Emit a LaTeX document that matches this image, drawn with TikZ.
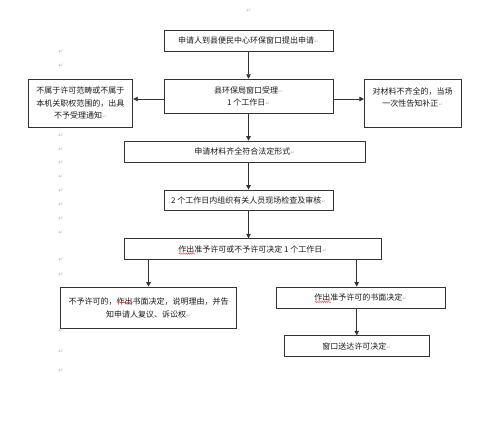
\documentclass[tikz,border=0pt]{standalone}
\usepackage{fontspec}
\newfontfamily\cjk{Noto Sans CJK SC}
\newfontfamily\dvs{DejaVu Sans}
\usetikzlibrary{arrows.meta,decorations.pathmorphing}
\newcommand{\rmk}{{\color{gray!55}\dvs\fontsize{5.5}{5.5}\selectfont ↵}}
\begin{document}
\begin{tikzpicture}[x=1pt,y=-1pt,
  box/.style={draw=black!80,line width=0.8pt,inner sep=0pt,align=center,
    font=\cjk\fontsize{8}{12.5}\selectfont,text=black!90},
  arr/.style={draw=black!80,line width=0.7pt,-{Triangle[length=4.5pt,width=4.5pt]}},
  retmark/.style={inner sep=0pt,font=\dvs\fontsize{6}{6}\selectfont,text=gray!55},
  wavy/.style={draw=red!80,line width=0.4pt,decorate,decoration={snake,amplitude=0.6pt,segment length=2.2pt}}]
\useasboundingbox (0,0) rectangle (500,429);
\fill[white] (0,0) rectangle (500,429);

\node[box,minimum width=169pt,minimum height=21pt] (b1) at (248.5,40.8) {申请人到县便民中心环保窗口提出申请\rmk};
\node[box,minimum width=169pt,minimum height=34.5pt] (b2) at (248.5,96.4) {县环保局窗口受理\rmk\\1 个工作日\rmk};
\node[box,minimum width=104.7pt,minimum height=48.7pt] (lb) at (80.4,103.4) {不属于许可范畴或不属于\\本机关职权范围的，出具\\不予受理通知\rmk};
\node[box,minimum width=96.7pt,minimum height=48.7pt] (rb) at (412.7,103.4) {对材料不齐全的，当场\\一次性告知补正\rmk\\\mbox{}};
\node[box,minimum width=240.7pt,minimum height=21.7pt] (b3) at (244.7,151.9) {申请材料齐全符合法定形式\rmk};
\node[box,minimum width=169pt,minimum height=20.7pt] (b4) at (248.5,200.4) {2 个工作日内组织有关人员现场检查及审核\rmk};
\node[box,minimum width=256.7pt,minimum height=20.6pt] (b5) at (252.7,249) {作出准予许可或不予许可决定 1 个工作日\rmk};
\node[box,minimum width=176.4pt,minimum height=41.7pt] (b6) at (148.5,307.9) {不予许可的，作出书面决定，说明理由，并告\\知申请人复议、诉讼权\rmk};
\node[box,minimum width=168.7pt,minimum height=21pt] (b7) at (360.7,297.5) {作出准予许可的书面决定\rmk};
\node[box,minimum width=144.7pt,minimum height=21pt] (b8) at (356.7,346.2) {窗口送达许可决定\rmk};

\draw[arr] (b1.south) -- (b2.north);
\draw[arr] ([yshift=-2.6pt]b2.west) -- ([yshift=-2.6pt]lb.east |- b2.west);
\draw[arr] ([yshift=-2.6pt]b2.east) -- ([yshift=-2.6pt]rb.west |- b2.east);
\draw[arr] (b2.south) -- (b2.south |- b3.north);
\draw[arr] (b4.north |- b3.south) -- (b4.north);
\draw[arr] (b4.south) -- (b4.south |- b5.north);
\draw[arr] (b6.north |- b5.south) -- (b6.north);
\draw[arr] (b8.north |- b5.south) -- (b8.north |- b7.north);
\draw[arr] (b8.north |- b7.south) -- (b8.north);

\draw[wavy] (179,253.8) -- (195,253.8);
\draw[wavy] (116.5,302.2) -- (132.5,302.2);
\draw[wavy] (315,302) -- (331,302);

\node[retmark] (m0) at (249,11) {↵};
\foreach \yy [count=\i] in {52,66,136,150,163,177,191,205,219,233,260,275,331,352,371}
  \node[retmark] (m\i) at (61,\yy) {↵};
\end{tikzpicture}
\end{document}
